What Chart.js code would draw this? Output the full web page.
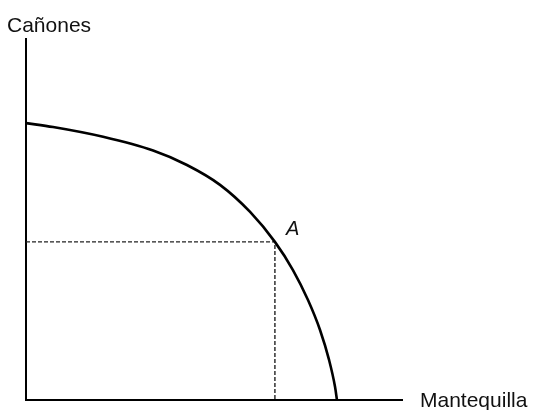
<!DOCTYPE html>
<html lang="es">
<head>
  <meta charset="UTF-8">
  <title>Frontera de posibilidades de producción</title>
  <script src="https://cdn.jsdelivr.net/npm/chart.js"></script>
  <style>
    html, body {
      margin: 0;
      padding: 0;
      background: #fff;
    }
    #wrap {
      width: 535px;
      height: 410px;
    }
  </style>
</head>
<body>
  <div id="wrap"><canvas id="ppf"></canvas></div>

  <script>
    // Frontera: mantequilla (x) contra cañones (y)
    const mantequilla = [0, 7.2, 20.5, 33.8, 42.8, 51.6, 59.6, 66.2, 71.0, 75.0, 78.2, 80.6, 82.2, 82.7];
    const canones     = [76.7, 75.6, 72.9, 69.1, 65.1, 59.6, 52.1, 43.8, 36.0, 27.7, 19.4, 11.1, 3.6, 0];
    // Punto A sobre la frontera
    const puntoA = [66.2, 43.8];
    const ejeX = 'Mantequilla';
    const ejeY = 'Cañones';

    const frontera = mantequilla.map((x, i) => ({ x: x, y: canones[i] }));

    const etiquetas = {
      id: 'etiquetas',
      afterDraw(chart) {
        const ctx = chart.ctx;
        const area = chart.chartArea;
        const sx = chart.scales.x, sy = chart.scales.y;
        ctx.save();
        ctx.fillStyle = '#111';
        ctx.textBaseline = 'alphabetic';
        ctx.font = '21px "Liberation Sans", Arial, sans-serif';
        ctx.fillText(ejeY, 7, 32);
        ctx.fillText(ejeX, area.right + 18, 407);
        ctx.font = 'italic 20px "Liberation Sans", Arial, sans-serif';
        ctx.fillText('A', sx.getPixelForValue(puntoA[0]) + 11, sy.getPixelForValue(puntoA[1]) - 7);
        ctx.restore();
      }
    };

    new Chart(document.getElementById('ppf'), {
      type: 'scatter',
      data: {
        datasets: [
          {
            data: frontera,
            showLine: true,
            borderColor: '#000',
            borderWidth: 2.6,
            pointRadius: 0,
            cubicInterpolationMode: 'monotone',
            clip: false
          },
          {
            // guías punteadas hacia los ejes
            data: [{ x: 0, y: puntoA[1] }, { x: puntoA[0], y: puntoA[1] }, { x: puntoA[0], y: 0 }],
            showLine: true,
            borderColor: '#222',
            borderWidth: 1.4,
            borderDash: [4, 2],
            pointRadius: 0,
            tension: 0
          }
        ]
      },
      options: {
        responsive: true,
        maintainAspectRatio: false,
        animation: false,
        layout: { padding: { left: 26, top: 39, right: 133, bottom: 10 } },
        plugins: {
          legend: { display: false },
          tooltip: { enabled: false }
        },
        scales: {
          x: {
            min: 0, max: 100,
            grid: { display: false, drawTicks: false },
            ticks: { display: false },
            border: { display: true, color: '#000', width: 2 }
          },
          y: {
            min: 0, max: 100,
            grid: { display: false, drawTicks: false },
            ticks: { display: false },
            border: { display: true, color: '#000', width: 2 }
          }
        }
      },
      plugins: [etiquetas]
    });
  </script>
</body>
</html>
